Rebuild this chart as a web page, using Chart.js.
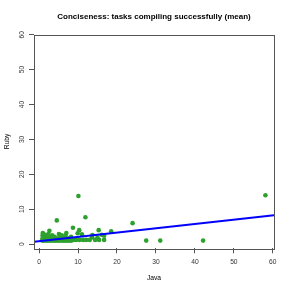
<!DOCTYPE html>
<html><head><meta charset="utf-8">
<script src="https://cdn.jsdelivr.net/npm/chart.js@4"></script>
<style>html,body{margin:0;padding:0;background:#fff}canvas{display:block}</style>
</head><body>
<canvas id="c" width="291" height="291"></canvas>
<script>
// Java (x) values and Ruby (y) values
const javaValues = [58.1,42.1,31.1,27.5,24.0,10.1,11.9,4.55,8.7,10.3,15.3,18.5,11.0,7.0,9.9,16.7,15.0,13.6,16.1,13.7,
  8.8,9.5,10.4,11.3,12.1,13.0,14.4,15.4,16.7,
  0.8,1.3,1.8,2.3,2.8,3.3,3.8,4.3,4.8,5.3,5.8,6.3,6.8,7.3,7.8,8.3,
  1.0,2.0,3.0,4.1,5.0,6.0,7.1,8.0,
  0.9,1.6,2.5,3.6,4.4,5.6,6.6,7.6,
  1.1,2.1,3.1,4.0,5.3,6.2,8.2,
  0.9,1.9,3.4,5.8,6.8,
  1.2,2.4,5.1,
  0.95,2.65];
const rubyValues = [14.0,1.0,1.0,1.0,6.0,13.8,7.7,6.8,4.7,4.0,4.0,3.7,2.8,3.2,3.1,2.4,1.9,1.9,2.7,2.6,
  1.2,1.2,1.2,1.2,1.2,1.2,1.2,1.2,1.2,
  1.0,1.0,1.0,1.0,1.0,1.0,1.0,1.0,1.0,1.0,1.0,1.0,1.0,1.0,1.0,1.0,
  1.3,1.3,1.3,1.3,1.3,1.3,1.3,1.3,
  1.7,1.7,1.7,1.7,1.7,1.7,1.7,1.7,
  2.1,2.1,2.1,2.1,2.1,2.1,2.1,
  2.5,2.5,2.5,2.5,2.5,
  2.9,2.9,2.9,
  3.2,3.8];
// fitted regression line
const fitIntercept = 0.86;
const fitSlope = 0.1234;
const tickValues = [0,10,20,30,40,50,60];
const xRange = [-1.3, 60.3];
const yRange = [-1.2, 60.05];

const points = javaValues.map((x,i)=>({x:x, y:rubyValues[i]}));
const linePts = xRange.map(x=>({x:x, y:fitIntercept + fitSlope*x}));

const FONT = "'Liberation Sans', Arial, Helvetica, sans-serif";
const boxPlugin = {
  id:'box',
  afterDatasetsDraw(chart){
    const a = chart.chartArea, ctx = chart.ctx;
    ctx.save();
    ctx.strokeStyle = '#555'; ctx.lineWidth = 1;
    ctx.strokeRect(Math.round(a.left)+0.5, Math.round(a.top)+0.5, Math.round(a.right-a.left), Math.round(a.bottom-a.top));
    ctx.restore();
  }
};
const fixTicks = s => { s.ticks = tickValues.map(v=>({value:v})); };

new Chart(document.getElementById('c'), {
  type:'scatter',
  data:{datasets:[
    {type:'line', data:linePts, borderColor:'#0000ff', borderWidth:2, pointRadius:0, fill:false, order:0},
    {data:points, backgroundColor:'#2ea02e', borderColor:'#2ea02e', pointRadius:2.3, borderWidth:0, order:1}
  ]},
  options:{
    responsive:false, animation:false, devicePixelRatio:1,
    layout:{padding:{left:0,right:17,top:0,bottom:0}},
    plugins:{
      legend:{display:false}, tooltip:{enabled:false},
      title:{display:true, fullSize:false, text:'Conciseness: tasks compiling successfully (mean)',
        color:'#000', font:{family:FONT, size:8, weight:'bold'}, padding:{top:12.2, bottom:12.7}}
    },
    scales:{
      x:{type:'linear', min:xRange[0], max:xRange[1], afterBuildTicks:fixTicks,
        afterFit(s){ s.height = 42.7; },
        grid:{drawOnChartArea:false, drawTicks:true, tickLength:5, color:'#555'},
        border:{display:false},
        ticks:{color:'#333', font:{family:FONT, size:6.7}, padding:4.7, maxRotation:0},
        title:{display:true, text:'Java', color:'#000', font:{family:FONT, size:6.7}, padding:{top:0,bottom:9.3}}
      },
      y:{type:'linear', min:yRange[0], max:yRange[1], afterBuildTicks:fixTicks,
        afterFit(s){ s.width = 34; },
        grid:{drawOnChartArea:false, drawTicks:true, tickLength:5, color:'#555'},
        border:{display:false},
        ticks:{color:'#333', font:{family:FONT, size:6.7}, padding:3.6, minRotation:90, maxRotation:90, crossAlign:'center'},
        title:{display:true, text:'Ruby', color:'#000', font:{family:FONT, size:6.7}, padding:{top:3.5,bottom:0}}
      }
    }
  },
  plugins:[boxPlugin]
});
</script>
</body></html>
